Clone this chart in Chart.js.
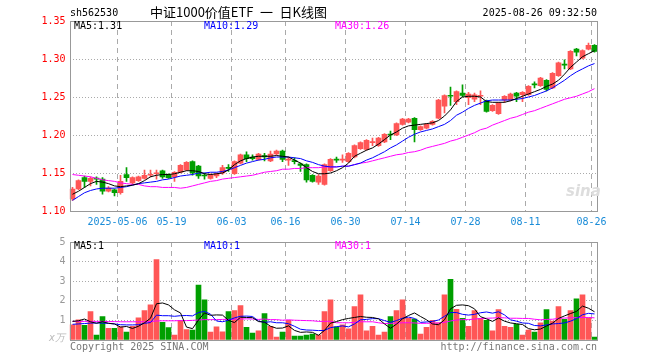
<!DOCTYPE html>
<html lang="zh">
<head>
<meta charset="UTF-8" />
<title>中证1000价值ETF 日K线图</title>
<script src="https://cdn.jsdelivr.net/npm/chart.js@4"></script>
<style>
  body { margin: 0; width: 660px; height: 360px; background: #fff; position: relative; overflow: hidden; font-family: "DejaVu Sans Mono", monospace; }
  canvas { position: absolute; left: 0; }
  #priceChart { top: 0; }
  #volChart { top: 232px; }
  .txt { position: absolute; font-size: 10px; line-height: 12px; white-space: pre; }
</style>
</head>
<body>
<canvas id="priceChart" width="660" height="232"></canvas>
<canvas id="volChart" width="660" height="128"></canvas>

<div class="txt" style="left:70px;top:7px;">sh562530</div>
<div class="txt" style="left:150px;top:4px;font-family:'Noto Sans CJK SC';font-size:13px;line-height:16px;">中证1000价值ETF&ensp;一&ensp;日K线图</div>
<div class="txt" style="right:63px;top:7px;">2025-08-26 09:32:50</div>

<div class="txt" style="left:74px;top:20px;color:#000;">MA5:1.31</div>
<div class="txt" style="left:204px;top:20px;color:#0000ff;">MA10:1.29</div>
<div class="txt" style="left:335px;top:20px;color:#ff00ff;">MA30:1.26</div>
<div class="txt" style="left:566px;top:185px;font-family:'DejaVu Sans';font-style:italic;font-weight:bold;font-size:15px;color:#ddd;">sina</div>

<div class="txt" style="left:74px;top:240px;color:#000;">MA5:1</div>
<div class="txt" style="left:204px;top:240px;color:#0000ff;">MA10:1</div>
<div class="txt" style="left:335px;top:240px;color:#ff00ff;">MA30:1</div>
<div class="txt" style="left:49px;top:332px;font-style:italic;color:#bbb;">x万</div>
<div class="txt" style="left:70px;top:341px;color:#777;">Copyright 2025 SINA.COM</div>
<div class="txt" style="right:63px;top:341px;color:#777;">http://finance.sina.com.cn</div>

<script>
// trading days shown (2025)
const dates = ['04-21','04-22','04-23','04-24','04-25','04-28','04-29','04-30','05-06','05-07',
  '05-08','05-09','05-12','05-13','05-14','05-15','05-16','05-19','05-20','05-21',
  '05-22','05-23','05-26','05-27','05-28','05-29','05-30','06-03','06-04','06-05',
  '06-06','06-09','06-10','06-11','06-12','06-13','06-16','06-17','06-18','06-19',
  '06-20','06-23','06-24','06-25','06-26','06-27','06-30','07-01','07-02','07-03',
  '07-04','07-07','07-08','07-09','07-10','07-11','07-14','07-15','07-16','07-17',
  '07-18','07-21','07-22','07-23','07-24','07-25','07-28','07-29','07-30','07-31',
  '08-01','08-04','08-05','08-06','08-07','08-08','08-11','08-12','08-13','08-14',
  '08-15','08-18','08-19','08-20','08-21','08-22','08-25','08-26'];
const tickLabels = ['2025-05-06','05-19','06-03','06-16','06-30','07-14','07-28','08-11','08-26'];

const open = [1.116,1.129,1.144,1.139,1.143,1.142,1.126,1.128,1.124,1.148,
  1.137,1.140,1.143,1.147,1.149,1.153,1.148,1.145,1.151,1.154,
  1.165,1.159,1.147,1.143,1.146,1.150,1.157,1.149,1.163,1.174,
  1.171,1.168,1.173,1.166,1.175,1.179,1.167,1.166,1.162,1.161,
  1.147,1.138,1.135,1.153,1.168,1.167,1.165,1.171,1.182,1.181,
  1.190,1.186,1.191,1.201,1.200,1.214,1.217,1.222,1.207,1.209,
  1.214,1.222,1.238,1.252,1.244,1.255,1.249,1.247,1.251,1.245,
  1.232,1.228,1.246,1.246,1.255,1.253,1.253,1.267,1.265,1.272,
  1.262,1.278,1.293,1.287,1.313,1.301,1.313,1.318];
const high = [1.131,1.141,1.146,1.145,1.145,1.144,1.132,1.129,1.147,1.157,
  1.145,1.146,1.154,1.154,1.154,1.154,1.149,1.152,1.161,1.165,
  1.166,1.160,1.150,1.149,1.150,1.160,1.161,1.166,1.175,1.178,
  1.174,1.176,1.176,1.179,1.180,1.180,1.171,1.170,1.163,1.162,
  1.148,1.148,1.162,1.169,1.171,1.174,1.177,1.187,1.191,1.194,
  1.196,1.197,1.202,1.205,1.216,1.222,1.222,1.223,1.212,1.215,
  1.219,1.247,1.253,1.263,1.258,1.266,1.256,1.255,1.258,1.246,
  1.240,1.243,1.252,1.255,1.256,1.257,1.265,1.270,1.276,1.273,
  1.282,1.296,1.299,1.311,1.314,1.312,1.321,1.319];
const low = [1.114,1.128,1.131,1.133,1.135,1.122,1.125,1.120,1.122,1.139,
  1.135,1.139,1.142,1.145,1.142,1.143,1.143,1.139,1.150,1.153,
  1.147,1.143,1.142,1.142,1.144,1.148,1.152,1.148,1.162,1.165,
  1.167,1.167,1.166,1.165,1.174,1.165,1.160,1.162,1.152,1.138,
  1.138,1.135,1.134,1.152,1.164,1.164,1.164,1.170,1.181,1.180,
  1.186,1.185,1.190,1.194,1.199,1.213,1.216,1.191,1.206,1.208,
  1.213,1.221,1.229,1.239,1.240,1.250,1.240,1.244,1.240,1.230,
  1.231,1.227,1.243,1.245,1.244,1.244,1.252,1.262,1.264,1.258,
  1.261,1.277,1.287,1.286,1.304,1.300,1.312,1.309];
const close = [1.129,1.140,1.139,1.143,1.142,1.126,1.130,1.124,1.139,1.144,
  1.144,1.145,1.147,1.148,1.150,1.145,1.144,1.151,1.160,1.164,
  1.150,1.146,1.146,1.148,1.149,1.157,1.156,1.165,1.174,1.169,
  1.169,1.175,1.171,1.175,1.179,1.168,1.168,1.165,1.160,1.141,
  1.139,1.146,1.161,1.168,1.167,1.168,1.176,1.186,1.190,1.193,
  1.191,1.196,1.201,1.200,1.215,1.221,1.221,1.207,1.211,1.214,
  1.218,1.246,1.252,1.251,1.257,1.252,1.254,1.253,1.252,1.231,
  1.239,1.242,1.251,1.254,1.251,1.256,1.264,1.266,1.275,1.260,
  1.281,1.295,1.292,1.310,1.309,1.311,1.318,1.310];

const ma5 = [1.122,1.126,1.131,1.136,1.139,1.138,1.136,1.133,1.132,1.133,
  1.134,1.136,1.140,1.145,1.147,1.148,1.148,1.149,1.151,1.153,
  1.153,1.152,1.149,1.148,1.149,1.150,1.154,1.161,1.166,1.169,
  1.171,1.172,1.172,1.172,1.173,1.172,1.171,1.167,1.163,1.157,
  1.152,1.149,1.149,1.150,1.153,1.157,1.163,1.172,1.176,1.180,
  1.183,1.188,1.194,1.200,1.204,1.209,1.212,1.213,1.214,1.215,
  1.216,1.219,1.225,1.233,1.244,1.250,1.251,1.251,1.250,1.244,
  1.243,1.243,1.243,1.245,1.248,1.251,1.254,1.257,1.260,1.264,
  1.267,1.272,1.280,1.289,1.296,1.303,1.307,1.311];
const ma10 = [1.114,1.119,1.124,1.127,1.129,1.130,1.130,1.130,1.131,1.132,
  1.134,1.136,1.137,1.138,1.139,1.141,1.142,1.144,1.146,1.147,
  1.148,1.150,1.150,1.151,1.151,1.152,1.154,1.157,1.160,1.163,
  1.165,1.167,1.168,1.170,1.171,1.171,1.171,1.170,1.169,1.166,
  1.164,1.161,1.159,1.158,1.158,1.159,1.159,1.161,1.163,1.167,
  1.170,1.174,1.178,1.183,1.187,1.192,1.197,1.201,1.204,1.206,
  1.208,1.211,1.214,1.219,1.226,1.230,1.235,1.239,1.242,1.245,
  1.246,1.246,1.246,1.246,1.247,1.248,1.250,1.252,1.255,1.258,
  1.262,1.267,1.272,1.278,1.283,1.287,1.291,1.294];
const ma30 = [1.148,1.147,1.146,1.145,1.143,1.141,1.140,1.139,1.137,1.136,
  1.135,1.135,1.133,1.132,1.132,1.131,1.131,1.131,1.130,1.131,
  1.133,1.135,1.137,1.139,1.140,1.142,1.143,1.144,1.145,1.146,
  1.147,1.149,1.151,1.152,1.153,1.155,1.155,1.156,1.156,1.157,
  1.157,1.157,1.158,1.158,1.158,1.159,1.159,1.161,1.163,1.164,
  1.166,1.168,1.170,1.172,1.174,1.175,1.177,1.178,1.180,1.183,
  1.185,1.187,1.189,1.192,1.194,1.197,1.200,1.203,1.207,1.209,
  1.213,1.216,1.219,1.222,1.224,1.227,1.230,1.232,1.235,1.238,
  1.241,1.244,1.247,1.249,1.251,1.254,1.257,1.261];

// volume, in 万
const vol = [0.78,1.03,0.75,1.45,0.25,1.2,0.6,0.6,0.67,0.4,
  0.7,1.13,1.5,1.8,4.1,0.9,0.63,0.25,1.0,0.53,
  0.5,2.8,2.05,0.4,0.67,0.42,1.45,1.5,1.75,0.65,
  0.35,0.47,1.35,0.7,0.15,0.4,1.0,0.2,0.2,0.25,
  0.3,0.25,1.45,2.05,0.67,0.78,0.57,1.7,2.3,0.47,
  0.7,0.25,0.4,1.2,1.5,2.05,1.1,1.07,0.3,0.65,
  1.0,0.88,2.3,3.1,1.57,1.1,0.7,1.5,1.1,1.0,
  0.47,1.55,0.7,0.65,0.8,0.25,0.5,0.4,0.87,1.55,
  0.97,1.7,1.05,1.5,2.1,2.3,1.13,0.15];
const volMa5 = [0.95,0.98,1.07,0.93,0.85,0.94,0.85,0.82,0.66,0.69,
  0.59,0.70,0.88,1.11,1.85,1.89,1.79,1.54,1.38,0.66,
  0.58,1.02,1.38,1.26,1.28,1.27,1.00,0.89,1.16,1.15,
  1.14,0.94,0.91,0.70,0.60,0.61,0.72,0.49,0.39,0.41,
  0.39,0.24,0.49,0.86,0.94,1.04,1.10,1.15,1.20,1.16,
  1.15,1.08,0.82,0.60,0.81,1.08,1.25,1.38,1.20,1.03,
  0.82,0.78,1.03,1.59,1.77,1.79,1.75,1.59,1.19,1.08,
  0.95,1.12,0.96,0.87,0.83,0.79,0.58,0.52,0.56,0.71,
  0.86,1.10,1.23,1.35,1.46,1.73,1.62,1.44];
const volMa10 = [0.80,0.82,0.84,0.86,0.87,0.86,0.85,0.82,0.78,0.77,
  0.77,0.78,0.85,0.89,1.27,1.24,1.24,1.21,1.24,1.25,
  1.23,1.40,1.46,1.32,0.97,0.93,1.01,1.13,1.21,1.22,
  1.20,0.97,0.90,0.93,0.88,0.88,0.83,0.70,0.55,0.51,
  0.50,0.48,0.49,0.63,0.68,0.72,0.67,0.82,1.03,1.05,
  1.09,1.09,0.99,0.90,0.99,1.11,1.17,1.10,0.90,0.92,
  0.95,1.02,1.21,1.40,1.40,1.31,1.27,1.31,1.39,1.43,
  1.37,1.44,1.28,1.03,0.96,0.87,0.85,0.74,0.72,0.77,
  0.82,0.84,0.87,0.96,1.09,1.29,1.36,1.33];
const volMa30 = [0.95,0.95,0.95,0.95,0.95,0.95,0.94,0.94,0.93,0.93,
  0.93,0.93,0.93,0.94,0.97,0.98,0.98,0.98,0.99,0.99,
  1.00,1.02,1.04,1.04,1.04,1.05,1.05,1.06,1.07,1.08,
  1.07,1.05,1.07,1.04,1.04,1.01,1.03,1.01,1.00,0.99,
  0.98,0.95,0.95,0.96,0.88,0.88,0.88,0.90,0.93,0.93,
  0.93,0.88,0.84,0.85,0.86,0.88,0.88,0.87,0.85,0.85,
  0.86,0.87,0.90,0.97,1.02,1.04,1.04,1.07,1.09,1.11,
  1.12,1.14,1.13,1.11,1.11,1.10,1.10,1.06,1.03,1.05,
  1.06,1.10,1.12,1.13,1.14,1.15,1.15,1.13];

const UP = '#ff5656', DOWN = '#009f00';
const colors = close.map((c, i) => c >= open[i] ? UP : DOWN);
const tickIndex = tickLabels.map(t => dates.indexOf(t.slice(-5)));
const monoFont = { family: 'DejaVu Sans Mono', size: 10 };

// gray frame round the plot area
const frame = {
  id: 'frame',
  afterDraw(chart) {
    const { ctx, chartArea: a } = chart;
    ctx.save();
    ctx.strokeStyle = '#999';
    ctx.lineWidth = 1;
    ctx.strokeRect(Math.round(a.left) + 0.5, Math.round(a.top) + 0.5,
      Math.round(a.right - a.left) - 1, Math.round(a.bottom - a.top));
    ctx.restore();
  }
};

function maLine(label, data, color) {
  return { type: 'line', label, data, borderColor: color, borderWidth: 1,
    pointRadius: 0, tension: 0, order: 0 };
}

function xAxis(showLabels, height) {
  return {
    offset: true,
    grid: { offset: true, drawTicks: false,
      color: ctx => tickIndex.includes(ctx.index) ? '#aaa' : 'rgba(0,0,0,0)' },
    border: { display: false, dash: [5, 4] },
    ticks: {
      display: showLabels, autoSkip: false, maxRotation: 0, minRotation: 0,
      labelOffset: -3, padding: 5, color: '#1a8cd8', font: monoFont,
      callback: (v, i) => {
        const k = tickIndex.indexOf(i);
        return k < 0 ? '' : tickLabels[k];
      }
    },
    afterFit: s => { s.height = height; }
  };
}

new Chart(document.getElementById('priceChart'), {
  type: 'bar',
  data: {
    labels: dates,
    datasets: [
      maLine('MA5', ma5, '#000000'),
      maLine('MA10', ma10, '#0000ff'),
      maLine('MA30', ma30, '#ff00ff'),
      { label: 'body', data: open.map((o, i) => [o, close[i]]), backgroundColor: colors,
        barThickness: 5, minBarLength: 1, grouped: false, order: 1 },
      { label: 'wick', data: low.map((l, i) => [l, high[i]]), backgroundColor: colors,
        barThickness: 1, grouped: false, order: 2 }
    ]
  },
  options: {
    responsive: false,
    animation: false,
    layout: { padding: { left: 0, right: 62.5, top: 21, bottom: 0 } },
    plugins: { legend: { display: false }, tooltip: { enabled: false } },
    scales: {
      x: xAxis(true, 21),
      y: {
        min: 1.10, max: 1.35,
        ticks: { stepSize: 0.05, color: '#ff0000', padding: 4, font: monoFont,
          callback: v => v.toFixed(2) },
        grid: { color: '#aaa', drawTicks: false },
        border: { display: false, dash: [1, 2] },
        afterFit: s => { s.width = 69.5; }
      }
    }
  },
  plugins: [frame]
});

new Chart(document.getElementById('volChart'), {
  type: 'bar',
  data: {
    labels: dates,
    datasets: [
      maLine('MA5', volMa5, '#000000'),
      maLine('MA10', volMa10, '#0000ff'),
      maLine('MA30', volMa30, '#ff00ff'),
      { label: 'vol', data: vol, backgroundColor: colors, barThickness: 5, order: 1 }
    ]
  },
  options: {
    responsive: false,
    animation: false,
    layout: { padding: { left: 0, right: 62.5, top: 8, bottom: 0 } },
    plugins: { legend: { display: false }, tooltip: { enabled: false } },
    scales: {
      x: xAxis(false, 20),
      y: {
        min: 0, max: 5,
        ticks: { stepSize: 1, color: '#999', padding: 4, font: monoFont,
          callback: v => v === 0 ? '' : v },
        grid: { color: '#aaa', drawTicks: false },
        border: { display: false, dash: [1, 2] },
        afterFit: s => { s.width = 69.5; }
      }
    }
  },
  plugins: [frame]
});
</script>
</body>
</html>
